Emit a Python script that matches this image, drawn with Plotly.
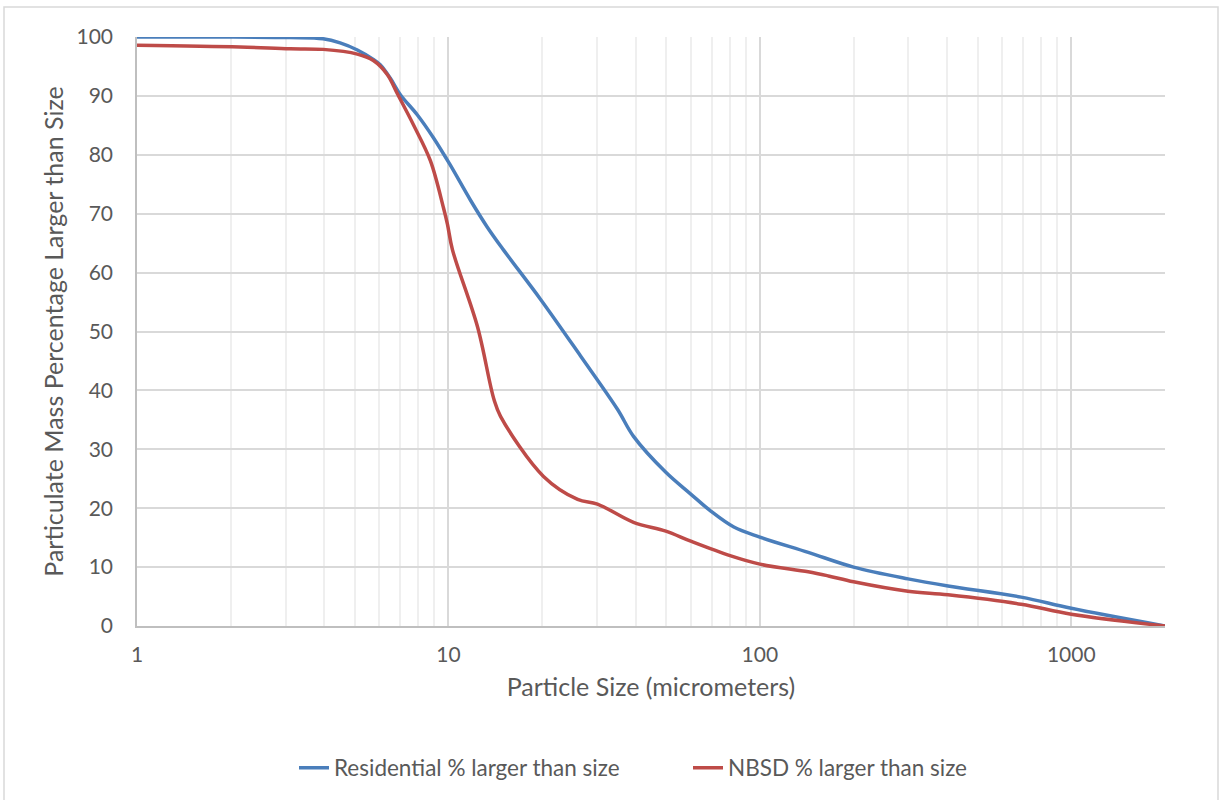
import plotly.graph_objects as go

# Particle size (micrometers) and % larger than size
res_size = [1.0, 2.0, 3.10, 3.96, 4.49, 5.10, 5.74, 6.04, 6.51, 7.01, 7.94, 8.95, 10.1, 11.8,
            13.3, 15.0, 19.8, 26.6, 34.9, 39.3, 49.9, 60.0, 69.6, 82.5, 100, 143, 200, 299,
            402, 690, 1000, 2000]
res_pct = [100, 100, 99.9, 99.7, 99.0, 97.8, 96.2, 95.3, 93.0, 90.2, 86.8, 82.9, 78.4, 72.2,
           67.8, 63.9, 55.4, 45.8, 36.8, 32.2, 26.1, 22.4, 19.5, 16.8, 15.1, 12.5, 10.0, 8.0,
           6.8, 4.9, 3.0, 0]

nbsd_size = [1.0, 2.14, 3.10, 3.96, 5.10, 5.74, 6.37, 6.85, 7.72, 8.75, 9.64, 9.93, 10.3,
             12.4, 14.0, 14.7, 20.2, 26.0, 30.1, 39.3, 49.9, 60.0, 80.7, 100, 143, 166, 200,
             299, 402, 690, 1000, 2000]
nbsd_pct = [98.6, 98.3, 98.0, 97.9, 97.1, 96.0, 93.6, 90.4, 85.1, 79.0, 71.0, 68.2, 63.9,
            50.8, 38.5, 35.6, 25.4, 21.5, 20.7, 17.6, 16.1, 14.4, 11.9, 10.5, 9.2, 8.5, 7.5,
            5.9, 5.3, 3.7, 2.0, 0]

series_names = ["Residential % larger than size", "NBSD % larger than size"]
series_colors = ["#4A7EBB", "#BE4B48"]

x_ticks = [1, 10, 100, 1000]
y_ticks = [0, 10, 20, 30, 40, 50, 60, 70, 80, 90, 100]

FONT = "Lato, 'Open Sans', sans-serif"
TXT = "#595959"

fig = go.Figure()
for xs, ys, name, col in [(res_size, res_pct, series_names[0], series_colors[0]),
                          (nbsd_size, nbsd_pct, series_names[1], series_colors[1])]:
    fig.add_trace(go.Scatter(
        x=xs, y=ys, mode="lines", name=name,
        line=dict(color=col, width=3.5, shape="spline", smoothing=1.0),
        cliponaxis=False,
    ))

fig.update_layout(
    width=1222, height=800,
    margin=dict(l=137, r=57, t=37, b=173),
    paper_bgcolor="white", plot_bgcolor="white",
    font=dict(family=FONT, size=21, color=TXT),
    showlegend=True,
    legend=dict(orientation="h", x=(294 - 137) / 1028, xanchor="left",
                y=-0.239, yanchor="middle",
                font=dict(size=22.5, color=TXT), entrywidth=349, entrywidthmode="pixels",
                tracegroupgap=0),
    xaxis=dict(
        type="log", range=[0, 3.30103],
        tickvals=x_ticks, ticktext=[str(v) for v in x_ticks],
        showgrid=True, gridcolor="#D9D9D9", gridwidth=1.5,
        minor=dict(dtick="D1", showgrid=True, gridcolor="#EFEFEF", gridwidth=1.5, ticks=""),
        showline=True, linecolor="#BFBFBF", linewidth=1.5,
        ticks="outside", ticklen=9, tickcolor="rgba(0,0,0,0)",
        tickfont=dict(size=21, color=TXT),
        title=dict(text="Particle Size (micrometers)", font=dict(size=25, color=TXT), standoff=14),
        zeroline=False,
    ),
    yaxis=dict(
        range=[0, 100], tickvals=y_ticks,
        showgrid=True, gridcolor="#D9D9D9", gridwidth=1.5,
        showline=True, linecolor="#BFBFBF", linewidth=1.5,
        ticks="outside", ticklen=18, tickcolor="rgba(0,0,0,0)",
        tickfont=dict(size=21, color=TXT),
        title=dict(text="Particulate Mass Percentage Larger than Size",
                   font=dict(size=25, color=TXT), standoff=6),
        zeroline=False,
    ),
)

# outer chart frame
fig.add_shape(type="rect", xref="paper", yref="paper",
              x0=(4 - 137) / 1028, x1=(1218 - 137) / 1028,
              y0=(627 - 803) / 590, y1=(627 - 7) / 590,
              line=dict(color="#D9D9D9", width=1.5), layer="below")

fig.write_html("out.html")
